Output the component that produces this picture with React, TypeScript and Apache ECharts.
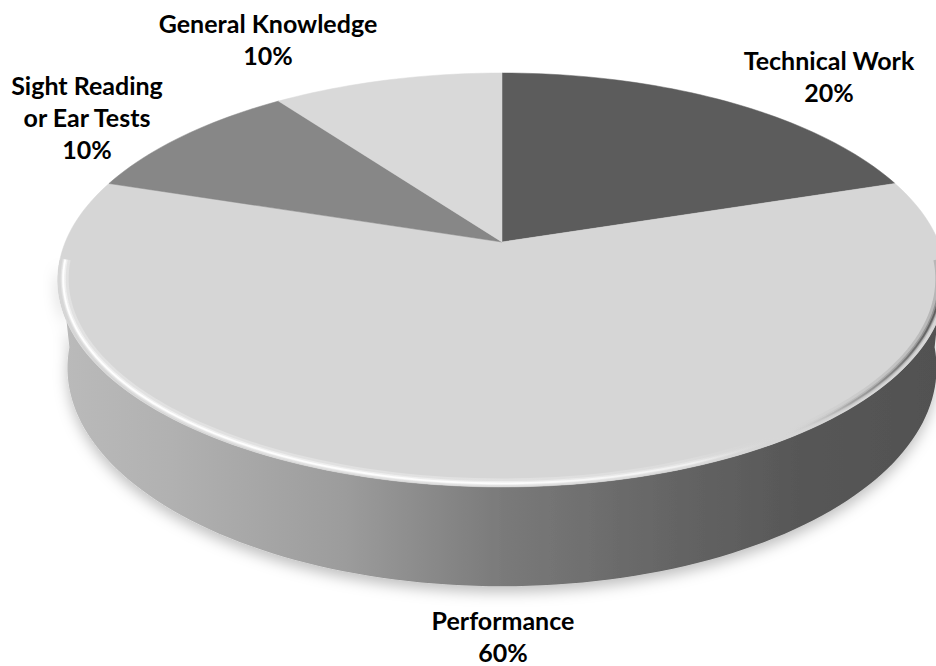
import React, { useEffect, useRef } from "react";
import * as echarts from "echarts";

// ---- data ----
const categories = ["Technical Work", "Performance", "Sight Reading\nor Ear Tests", "General Knowledge"];
const shares = [20, 60, 10, 10];
const topColors = ["#5c5c5c", "#d6d6d6", "#878787", "#d9d9d9"];

// ---- layout (label block centres, px) ----
const labelAnchors: number[][] = [
  [829, 76],
  [503, 636],
  [87, 117],
  [268, 39],
];

// ---- 3D projection parameters ----
const P = 2380;
const K = 5.45;
const S = 0.458;
const C = Math.sqrt(1 - S * S);
const ETA = 0.228;
const CX = 502;
const CY = 242;

function proj(phi: number, r: number, bottom: boolean): number[] {
  const cp = Math.cos(phi);
  const sp = Math.sin(phi);
  const h = bottom ? ETA : 0;
  const den = K + (h * S) / C + r * cp;
  const sx = (P * r * sp) / den;
  const sy = (P * (-h * C + S * r * cp)) / den;
  return [CX + sx, CY - sy];
}

const total = shares.reduce((a, b) => a + b, 0);
const startAngles: number[] = [];
const endAngles: number[] = [];
{
  let acc = 0;
  shares.forEach((v) => {
    startAngles.push((acc / total) * Math.PI * 2);
    acc += v;
    endAngles.push((acc / total) * Math.PI * 2);
  });
}

function arc(a0: number, a1: number, r: number, bottom: boolean): number[][] {
  const n = Math.max(2, Math.ceil(((a1 - a0) / (Math.PI * 2)) * 240));
  const pts: number[][] = [];
  for (let j = 0; j <= n; j++) pts.push(proj(a0 + ((a1 - a0) * j) / n, r, bottom));
  return pts;
}

const VIS0 = (95 / 180) * Math.PI;
const VIS1 = (265 / 180) * Math.PI;

export default function App() {
  const ref = useRef<HTMLDivElement>(null);
  useEffect(() => {
    if (!ref.current) return;
    const chart = echarts.init(ref.current, undefined, { renderer: "svg" });
    const data = shares.map((v, i) => ({ name: categories[i], value: [v, i] }));

    const wallFill = {
      type: "linear",
      x: 65,
      y: 0,
      x2: 939,
      y2: 0,
      global: true,
      colorStops: [
        { offset: 0, color: "#bababa" },
        { offset: 0.12, color: "#b1b1b1" },
        { offset: 0.32, color: "#9c9c9c" },
        { offset: 0.5, color: "#7a7a7a" },
        { offset: 0.68, color: "#666666" },
        { offset: 0.84, color: "#575757" },
        { offset: 1, color: "#515151" },
      ],
    };
    const rimStroke = {
      type: "linear",
      x: 65,
      y: 0,
      x2: 939,
      y2: 0,
      global: true,
      colorStops: [
        { offset: 0, color: "rgba(255,255,255,0.95)" },
        { offset: 0.5, color: "rgba(255,255,255,0.85)" },
        { offset: 0.72, color: "rgba(255,255,255,0.45)" },
        { offset: 0.82, color: "rgba(214,214,214,0)" },
        { offset: 0.9, color: "rgba(120,120,120,0.35)" },
        { offset: 1, color: "rgba(80,80,80,0.8)" },
      ],
    };

    chart.setOption({
      animation: false,
      backgroundColor: "#ffffff",
      series: [
        {
          type: "custom",
          coordinateSystem: "none",
          z: 1,
          silent: true,
          data,
          renderItem: (params: any) => {
            const i = params.dataIndex;
            const a0 = Math.max(startAngles[i], VIS0);
            const a1 = Math.min(endAngles[i], VIS1);
            if (a1 <= a0) return { type: "group", children: [] };
            const top = arc(a0, a1, 1, false);
            const bot = arc(a0, a1, 1, true).reverse();
            return {
              type: "polygon",
              shape: { points: top.concat(bot) },
              style: {
                fill: wallFill,
                stroke: "rgba(0,0,0,0)",
                shadowBlur: 14,
                shadowColor: "rgba(0,0,0,0.25)",
                shadowOffsetY: 6,
              },
            };
          },
        },
        {
          type: "custom",
          coordinateSystem: "none",
          z: 2,
          silent: true,
          data,
          renderItem: (params: any, api: any) => {
            const i = params.dataIndex;
            const v = api.value(0);
            const a0 = startAngles[i];
            const a1 = endAngles[i];
            const pts = [proj(0, 0, false)].concat(arc(a0, a1, 1, false));
            const children: any[] = [
              {
                type: "polygon",
                shape: { points: pts },
                style: { fill: topColors[i], stroke: topColors[i], lineWidth: 0.5 },
              },
            ];
            const h0 = Math.max(a0, VIS0);
            const h1 = Math.min(a1, VIS1);
            if (h1 > h0) {
              children.push({
                type: "polyline",
                shape: { points: arc(h0, h1, 0.985, false) },
                style: { stroke: rimStroke, lineWidth: 8, opacity: 0.3, fill: "none" },
              });
              children.push({
                type: "polyline",
                shape: { points: arc(h0, h1, 0.987, false) },
                style: { stroke: rimStroke, lineWidth: 4, opacity: 0.5, fill: "none" },
              });
              children.push({
                type: "polyline",
                shape: { points: arc(h0, h1, 0.988, false) },
                style: { stroke: rimStroke, lineWidth: 1.8, fill: "none" },
              });
            }
            const pct = Math.round((v / total) * 100);
            children.push({
              type: "text",
              x: labelAnchors[i][0],
              y: labelAnchors[i][1],
              style: {
                text: categories[i] + "\n" + pct + "%",
                fill: "#000000",
                fontFamily: "Lato",
                fontWeight: "bold",
                fontSize: 25,
                lineHeight: 32,
                align: "center",
                verticalAlign: "middle",
              },
            });
            return { type: "group", children };
          },
        },
      ],
    });
    return () => chart.dispose();
  }, []);
  return (
    <div
      ref={ref}
      style={{ position: "absolute", left: 0, top: 0, width: 936, height: 666 }}
    />
  );
}
